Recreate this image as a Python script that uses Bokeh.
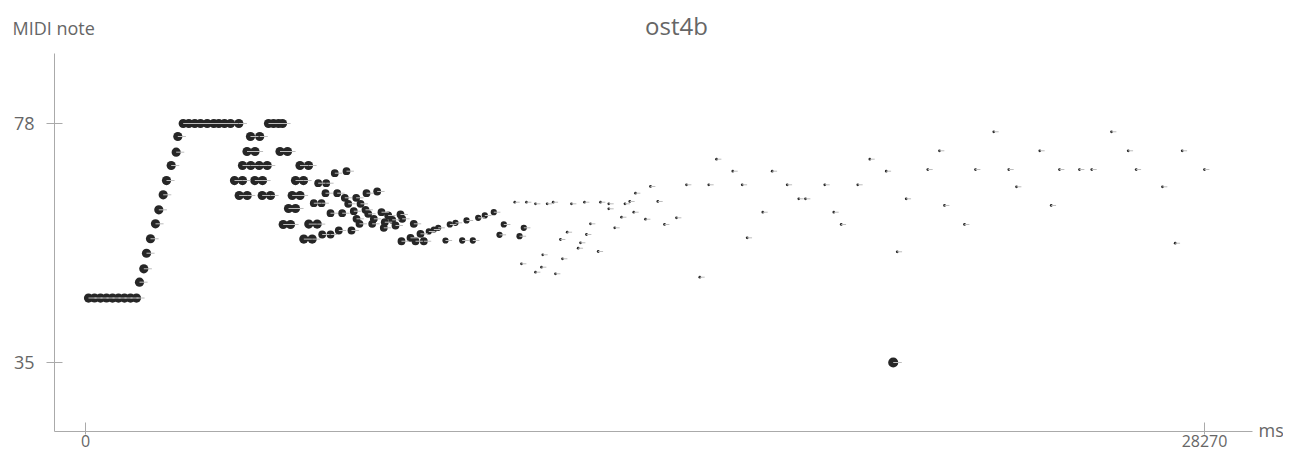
from bokeh.plotting import figure
from bokeh.models import Range1d, FixedTicker, Label, ColumnDataSource
from bokeh.embed import file_html
from bokeh.resources import INLINE

TITLE = "ost4b"
X_UNIT = "ms"
Y_UNIT = "MIDI note"
X_TICKS = [0, 28270]
Y_TICKS = [35, 78]

# ---- notes: onset time (ms) and pitch (MIDI note) ----
# opening: repeated low note, upward run, held top note and pairs
open_ms = [76, 227, 379, 531, 682, 834, 985, 1137, 1288,
           1364, 1473, 1541, 1642, 1768, 1852, 1963, 2046, 2165, 2291, 2332,
           2468, 2610, 2761, 2905, 3075, 3241, 3368, 3512, 3663, 3873,
           4623, 4750, 4876, 4977,
           3764, 3883, 3966, 3966, 4080, 4085, 4168, 4176, 4277, 4282, 4388,
           4401, 4464, 4472, 4590, 4674, 4914, 4995, 5103, 5129, 5179, 5222,
           5305, 5305, 5419, 5419, 5508, 5515, 5634, 5641, 5727, 5853]
open_note = [46.6, 46.6, 46.6, 46.6, 46.6, 46.6, 46.6, 46.6, 46.6,
             49.45, 51.86, 54.66, 57.26, 59.95, 62.47, 65.17, 67.74, 70.44, 72.84, 75.66,
             78.0, 78.0, 78.0, 78.0, 78.0, 78.0, 78.0, 78.0, 78.0, 78.0,
             78.0, 78.0, 78.0, 78.0,
             67.74, 65.05, 70.44, 67.74, 72.96, 65.05, 75.66, 70.44, 67.74, 72.96, 70.44,
             75.66, 65.05, 67.74, 70.44, 65.05, 72.96, 59.83, 72.96, 62.71, 59.83, 65.05,
             67.74, 62.71, 70.44, 65.05, 67.74, 57.2, 70.44, 59.9, 57.2, 59.9]
open_vel = 100

# descending cluster
mid_ms = [5768, 5879, 5962, 5980, 6063, 6081, 6190, 6190, 6298, 6359, 6399,
          6485, 6551, 6594, 6637, 6720, 6778, 6839, 6847, 6922, 6948, 7074,
          7099, 7142, 7243, 7284, 7369, 7478, 7536, 7561, 7647, 7748, 7832,
          7958, 7983, 8001, 8211, 8294, 8337, 8463, 8547]
mid_note = [63.66, 67.26, 63.66, 58.03, 65.46, 67.26, 61.86, 58.03, 69.06, 65.46, 58.75,
            61.86, 64.63, 69.42, 63.55, 58.75, 62.22, 64.63, 60.85, 59.95, 63.55, 62.47,
            65.46, 61.75, 59.95, 60.85, 65.77, 62.04, 59.23, 60.24, 61.45, 60.67, 59.65,
            61.63, 56.82, 60.85, 57.43, 59.95, 56.82, 58.15, 56.82]
mid_vel = 85

# fading phrase
fade_ms = [8673, 8800, 8911, 9095, 9204, 9348, 9517, 9626, 9785, 9921,
           10088, 10315, 10459, 10568, 10965, 11073]
fade_note = [58.57, 58.93, 59.23, 56.95, 59.83, 60.13, 56.95, 60.55, 56.95, 61.03,
             61.45, 62.04, 57.97, 59.83, 57.72, 59.23]
fade_vel = 68

# soft scattered notes
soft_ms = [10846, 11015, 11141, 11369, 11369, 11520, 11553, 11664, 11816, 11874,
           12000, 12051, 12170, 12278, 12447, 12506, 12607, 12657, 12758, 12953,
           13011, 13221, 13221, 13372, 13542, 13630, 13751, 13852, 13895, 14148,
           14274, 14459, 14628, 14931, 15184, 15520, 15747, 15942, 16353, 16591,
           16717, 17111, 17349, 17728, 18021, 18190, 18678, 18905, 19092, 19511,
           19815, 20229, 20507, 20734, 21280, 21575, 21702, 22207, 22485, 22947,
           23326, 23521, 24109, 24397, 24607, 25112, 25423, 25921, 26343, 26545,
           27209, 27530, 27707, 28270]
soft_note = [63.84, 52.76, 63.84, 63.55, 51.25, 52.15, 54.38, 63.55, 63.84, 50.96,
             57.13, 53.66, 58.44, 63.55, 55.56, 56.54, 63.84, 58.03, 59.95, 54.97,
             63.84, 63.55, 62.65, 59.23, 61.14, 63.55, 63.97, 62.04, 65.46, 60.78,
             66.67, 63.97, 59.83, 61.03, 66.97, 50.35, 66.97, 71.58, 69.42, 66.97,
             57.43, 62.04, 69.42, 66.97, 64.45, 64.45, 66.97, 62.04, 59.83, 66.97,
             71.58, 69.42, 54.92, 64.45, 69.72, 73.09, 63.25, 59.83, 69.72, 76.51,
             69.72, 66.61, 73.09, 63.25, 69.72, 69.72, 69.72, 76.51, 73.09, 69.72,
             66.61, 56.46, 73.09, 69.72]
soft_vel = 30

# single low accent
low_ms = [20406]
low_note = [35]
low_vel = 110

groups = [(open_ms, open_note, open_vel), (mid_ms, mid_note, mid_vel),
          (fade_ms, fade_note, fade_vel), (soft_ms, soft_note, soft_vel),
          (low_ms, low_note, low_vel)]

xs, ys, vels = [], [], []
for g_ms, g_note, g_vel in groups:
    xs += g_ms
    ys += g_note
    vels += [g_vel] * len(g_ms)

sizes = [v * 0.092 for v in vels]
tails = [s / 2 + 3.5 for s in sizes]
src = ColumnDataSource(dict(x=xs, y=ys, size=sizes, tail=tails))

# ---- layout (frame = whole canvas; axes placed with fixed_location) ----
W, H = 1283, 451
PX_PER_MS = 1119 / 28270        # 0 ms at px 85, 28270 ms at px 1204
PX_PER_NOTE = 239 / 43          # note 78 at px 123, note 35 at px 362
X0_PX, Y78_PX = 85, 123
AX_LEFT_PX, AX_RIGHT_PX, AX_TOP_PX, AX_BOTTOM_PX = 54, 1252, 53, 431


def px_to_ms(px):
    return (px - X0_PX) / PX_PER_MS


def px_to_note(py):
    return 78 - (py - Y78_PX) / PX_PER_NOTE


x0, x1 = px_to_ms(0), px_to_ms(W)
y0, y1 = px_to_note(H), px_to_note(0)

FONT = "Open Sans"
AXIS_COL = "#aaaaaa"
TEXT_COL = "#666666"

p = figure(width=W, height=H, output_backend="svg", toolbar_location=None,
           x_range=Range1d(x0, x1), y_range=Range1d(y0, y1),
           min_border_left=0, min_border_right=0,
           min_border_top=0, min_border_bottom=0)
p.outline_line_color = None
p.grid.visible = False
p.background_fill_color = "white"
p.border_fill_color = "white"

xa, ya = p.xaxis[0], p.yaxis[0]
xa.ticker = FixedTicker(ticks=X_TICKS)
ya.ticker = FixedTicker(ticks=Y_TICKS)
xa.fixed_location = px_to_note(AX_BOTTOM_PX)
ya.fixed_location = px_to_ms(AX_LEFT_PX)
xa.bounds = (px_to_ms(AX_LEFT_PX), px_to_ms(AX_RIGHT_PX))
ya.bounds = (px_to_note(AX_BOTTOM_PX), px_to_note(AX_TOP_PX))
for ax in (xa, ya):
    ax.axis_line_color = AXIS_COL
    ax.major_tick_line_color = AXIS_COL
    ax.minor_tick_line_color = None
    ax.major_label_text_font = FONT
    ax.major_label_text_font_size = "18px"
    ax.major_label_text_color = TEXT_COL
xa.major_label_text_font_size = "16px"
xa.major_tick_in = 9
xa.major_tick_out = 3
xa.major_label_standoff = 0
ya.major_tick_in = 8
ya.major_tick_out = 8
ya.major_label_standoff = 12

p.scatter("x", "y", size="size", source=src, marker="circle",
          fill_color="#262626", line_color=None)
p.ray("x", "y", length="tail", length_units="screen", angle=0, source=src,
      line_color="#bdbdbd", line_width=1)

# texts (screen units: x from left, y from bottom of canvas)
p.add_layout(Label(x=676, y=H - 25, x_units="screen", y_units="screen", text=TITLE,
                   text_align="center", text_baseline="alphabetic", text_font=FONT,
                   text_font_size="24px", text_color=TEXT_COL))
p.add_layout(Label(x=12, y=H - 27, x_units="screen", y_units="screen", text=Y_UNIT,
                   text_align="left", text_baseline="alphabetic", text_font=FONT,
                   text_font_size="18px", text_color=TEXT_COL))
p.add_layout(Label(x=AX_RIGHT_PX + 6, y=H - 429, x_units="screen", y_units="screen",
                   text=X_UNIT, text_align="left", text_baseline="alphabetic",
                   text_font=FONT, text_font_size="18px", text_color=TEXT_COL))

open("out.html", "w").write(file_html(p, INLINE))
